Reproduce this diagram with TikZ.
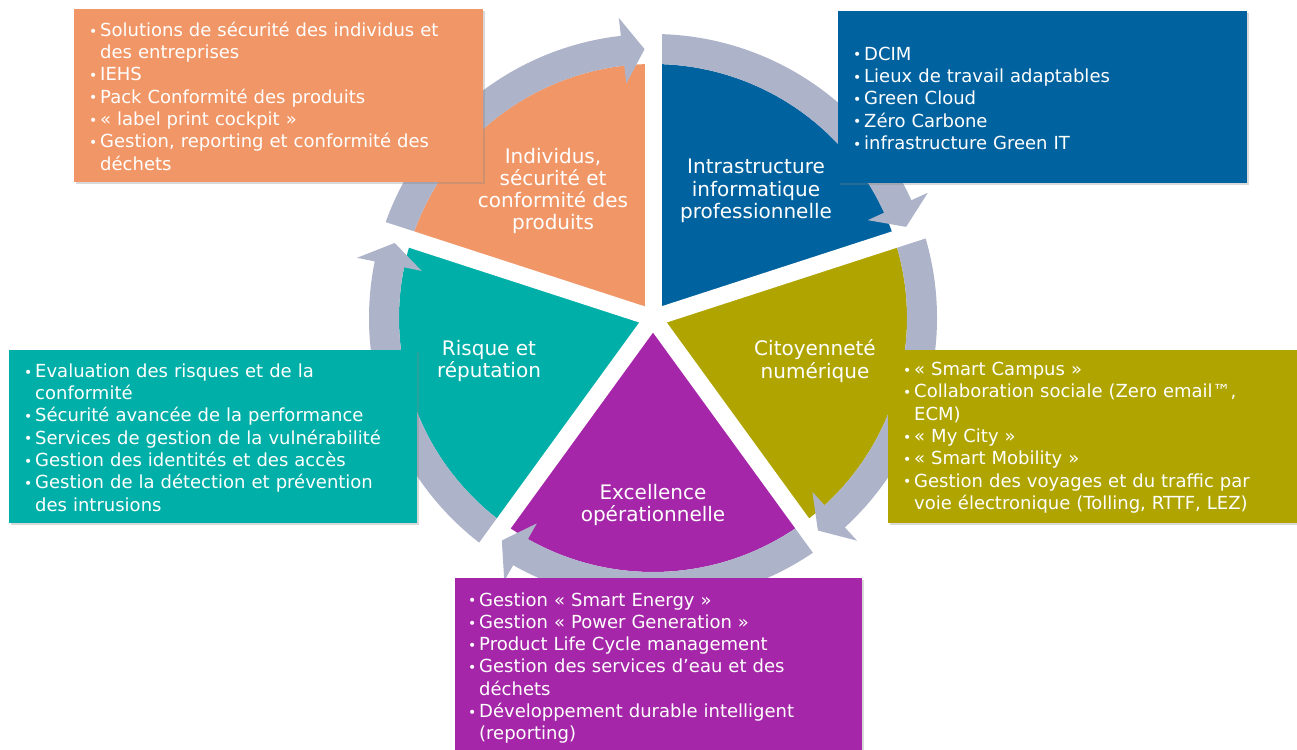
\documentclass[tikz,border=0pt]{standalone}
\usepackage{fontspec}
\setmainfont{DejaVu Sans}
\usetikzlibrary{positioning,shadows}
\definecolor{orangeseg}{HTML}{F19767}
\definecolor{bleuseg}{HTML}{0063A0}
\definecolor{oliveseg}{HTML}{B0A500}
\definecolor{violetseg}{HTML}{A526A8}
\definecolor{turqseg}{HTML}{00B0A8}
\definecolor{anneau}{HTML}{ADB3C9}
\newcommand{\listefont}{\fontsize{18}{22.3}\selectfont\spaceskip=0.5em plus 0.1em\relax}
\newcommand{\puce}{\par\hangindent=11pt\hangafter=1\noindent\makebox[11pt][l]{\raisebox{0.3pt}{\fontsize{14}{14}\selectfont•}}}
\begin{document}
\begin{tikzpicture}[x=1pt,y=-1pt,
  boite/.style={anchor=north west, inner sep=0pt, drop shadow={shadow xshift=2pt, shadow yshift=-2pt, opacity=.3}},
  liste/.style={text=white, text width=400pt, align=left, inner sep=0pt, yshift=3.5pt, font=\listefont},
  etiq/.style={text=white, align=center, inner sep=0pt, font=\fontsize{20}{22.3}\selectfont}]
\path[use as bounding box, clip] (0,0) rectangle (1297,749);
\begin{scope}[shift={(653,318)}, y=1pt]
\fill[orangeseg] (0,0) -- (90:254) arc[start angle=90, end angle=162, radius=254] -- cycle;
\fill[bleuseg] (0,0) -- (18:254) arc[start angle=18, end angle=90, radius=254] -- cycle;
\fill[oliveseg] (0,0) -- (-54:254) arc[start angle=-54, end angle=18, radius=254] -- cycle;
\fill[violetseg] (0,0) -- (-126:254) arc[start angle=-126, end angle=-54, radius=254] -- cycle;
\fill[turqseg] (0,0) -- (162:254) arc[start angle=162, end angle=234, radius=254] -- cycle;
\fill[anneau] (162:254) arc[start angle=162, end angle=96.5, radius=254] -- (96.5:236) -- (91.8:269) -- (96.5:302) -- (96.5:284) arc[start angle=96.5, end angle=162, radius=284] -- cycle;
\fill[anneau] (90:254) arc[start angle=90, end angle=24.5, radius=254] -- (24.5:236) -- (19.8:269) -- (24.5:302) -- (24.5:284) arc[start angle=24.5, end angle=90, radius=284] -- cycle;
\fill[anneau] (18:254) arc[start angle=18, end angle=-47.5, radius=254] -- (-47.5:236) -- (-52.2:269) -- (-47.5:302) -- (-47.5:284) arc[start angle=-47.5, end angle=18, radius=284] -- cycle;
\fill[anneau] (-54:254) arc[start angle=-54, end angle=-119.5, radius=254] -- (-119.5:236) -- (-124.2:269) -- (-119.5:302) -- (-119.5:284) arc[start angle=-119.5, end angle=-54, radius=284] -- cycle;
\fill[anneau] (234:254) arc[start angle=234, end angle=168.5, radius=254] -- (168.5:236) -- (163.8:269) -- (168.5:302) -- (168.5:284) arc[start angle=168.5, end angle=234, radius=284] -- cycle;
\draw[white, line width=17pt] (0,0) -- (90:320);
\draw[white, line width=17pt] (0,0) -- (18:320);
\draw[white, line width=17pt] (0,0) -- (-54:320);
\draw[white, line width=17pt] (0,0) -- (-126:320);
\draw[white, line width=17pt] (0,0) -- (162:320);
\end{scope}
\node[etiq] (lind) at (553,191) {Individus,\\sécurité et\\conformité des\\produits};
\node[etiq] (linf) at (756,191) {Intrastructure\\informatique\\professionnelle};
\node[etiq] (lcit) at (815,361) {Citoyenneté\\numérique};
\node[etiq] (lexc) at (653,505) {Excellence\\opérationnelle};
\node[etiq] (lris) at (489,361) {Risque et\\réputation};
\node[boite, fill=orangeseg, minimum width=409pt, minimum height=173pt] (bind) at (74,9) {};
\node[liste, right=15pt of bind.west] (tind) {\puce Solutions de sécurité des individus et\newline des entreprises
\puce IEHS
\puce Pack Conformité des produits
\puce « label print cockpit »
\puce Gestion, reporting et conformité des\newline déchets\par};
\node[boite, fill=bleuseg, minimum width=409pt, minimum height=172pt] (binf) at (838,11) {};
\node[liste, right=15pt of binf.west] (tinf) {\puce DCIM
\puce Lieux de travail adaptables
\puce Green Cloud
\puce Zéro Carbone
\puce infrastructure Green IT\par};
\node[boite, fill=turqseg, minimum width=408pt, minimum height=173pt] (bris) at (9,350) {};
\node[liste, right=15pt of bris.west] (tris) {\puce Evaluation des risques et de la\newline conformité
\puce Sécurité avancée de la performance
\puce Services de gestion de la vulnérabilité
\puce Gestion des identités et des accès
\puce Gestion de la détection et prévention\newline des intrusions\par};
\node[boite, fill=oliveseg, minimum width=409pt, minimum height=173pt] (bcit) at (888,350) {};
\node[liste, right=15pt of bcit.west] (tcit) {\puce « Smart Campus »
\puce Collaboration sociale (Zero email™,\newline ECM)
\puce « My City »
\puce « Smart Mobility »
\puce Gestion des voyages et du traffic par\newline voie électronique (Tolling, RTTF, LEZ)\par};
\node[boite, fill=violetseg, minimum width=407pt, minimum height=178pt] (bexc) at (455,578) {};
\node[liste, right=13pt of bexc.west] (texc) {\puce Gestion « Smart Energy »
\puce Gestion « Power Generation »
\puce Product Life Cycle management
\puce Gestion des services d’eau et des\newline déchets
\puce Développement durable intelligent\newline (reporting)\par};
\end{tikzpicture}
\end{document}
